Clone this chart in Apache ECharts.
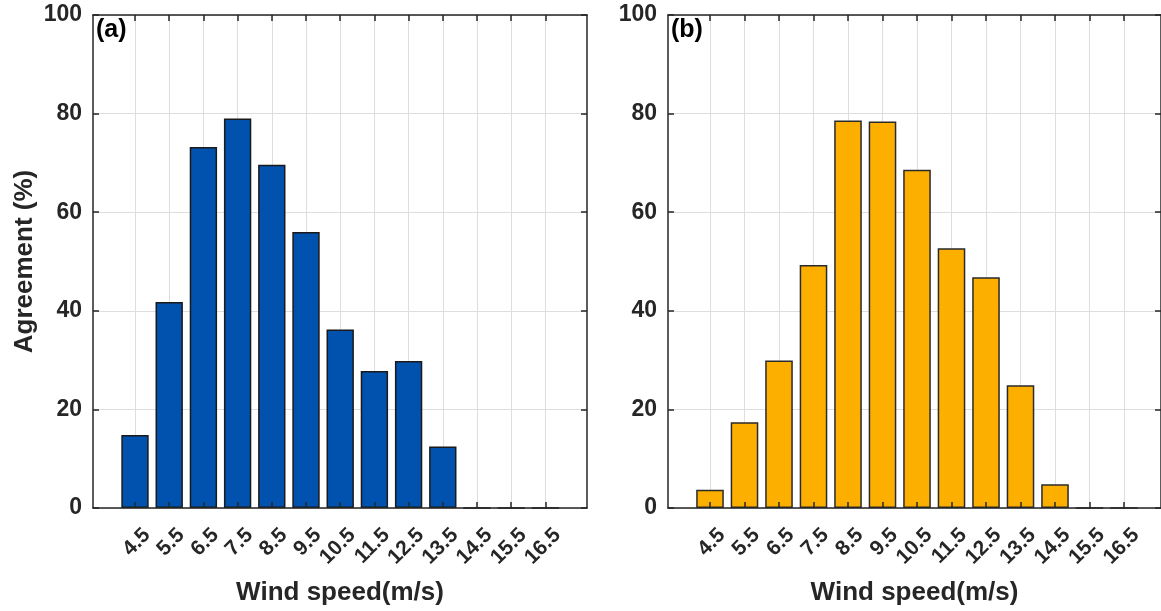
<!DOCTYPE html>
<html>
<head>
<meta charset="utf-8">
<script src="https://cdn.jsdelivr.net/npm/echarts@6/dist/echarts.min.js"></script>
<style>
  html, body { margin: 0; padding: 0; background: #ffffff; }
  #chart { width: 1161px; height: 611px; }
</style>
</head>
<body>
<div id="chart"></div>
<script>
// ---- data ----
const categories = ['4.5', '5.5', '6.5', '7.5', '8.5', '9.5', '10.5', '11.5', '12.5', '13.5', '14.5', '15.5', '16.5'];
const agreementA = [14.8, 41.8, 73.2, 79.0, 69.6, 56.0, 36.2, 27.8, 29.8, 12.5, 0, 0, 0];
const agreementB = [3.7, 17.4, 29.9, 49.3, 78.6, 78.4, 68.6, 52.7, 46.8, 24.9, 4.8, 0, 0];
const yMin = 0, yMax = 100, yStep = 20;
const xTitle = 'Wind speed(m/s)';
const yTitle = 'Agreement (%)';
const panelLabels = ['(a)', '(b)'];

// ---- style / layout ----
const FONT = "'Liberation Sans', Arial, Helvetica, sans-serif";
const TXT = '#262626';
const AX = { color: '#262626', width: 1.5 };
const GRIDC = '#dedede';
const TOP = 15, HEIGHT = 493;
const panels = [
  { frameLeft: 93, frameWidth: 494, dataLeft: 135, dataWidth: 410.4, color: '#0052AE', edge: '#1a1a1a', values: agreementA, label: panelLabels[0], yName: yTitle, labelX: 96 },
  { frameLeft: 668, frameWidth: 496, dataLeft: 710, dataWidth: 414, color: '#FDAF00', edge: '#2a2a2a', values: agreementB, label: panelLabels[1], yName: '', labelX: 671 }
];

const grid = [], xAxis = [], yAxis = [], series = [], graphic = [];

panels.forEach(p => {
  const gF = grid.length;
  grid.push({ left: p.frameLeft, top: TOP, width: p.frameWidth, height: HEIGHT });
  const gD = grid.length;
  grid.push({ left: p.dataLeft, top: TOP, width: p.dataWidth, height: HEIGHT });
  const gL = grid.length;
  grid.push({ left: p.dataLeft + 12, top: TOP, width: p.dataWidth, height: HEIGHT });

  // frame x axes (box lines)
  xAxis.push({
    gridIndex: gF, type: 'value', min: 0, max: 1, position: 'bottom', z: 6,
    axisLine: { show: true, onZero: false, lineStyle: AX },
    axisTick: { show: false }, axisLabel: { show: false }, splitLine: { show: false },
    name: xTitle, nameLocation: 'middle', nameGap: 72,
    nameTextStyle: { fontSize: 26, fontWeight: 'bold', color: TXT, fontFamily: FONT }
  });
  xAxis.push({
    gridIndex: gF, type: 'value', min: 0, max: 1, position: 'top', z: 6,
    axisLine: { show: true, onZero: false, lineStyle: AX },
    axisTick: { show: false }, axisLabel: { show: false }, splitLine: { show: false }
  });
  // data x axis: vertical grid lines
  const xSplitIdx = xAxis.length;
  xAxis.push({
    gridIndex: gD, type: 'category', data: categories, boundaryGap: false, position: 'bottom', z: 0,
    axisLine: { show: false }, axisTick: { show: false }, axisLabel: { show: false },
    splitLine: { show: true, interval: 0, lineStyle: { color: GRIDC, width: 1 } }
  });
  // data x axes: inward ticks bottom & top
  ['bottom', 'top'].forEach(pos => {
    xAxis.push({
      gridIndex: gD, type: 'category', data: categories, boundaryGap: false, position: pos, z: 6,
      axisLine: { show: false },
      axisTick: { show: true, inside: true, length: 6, interval: 0, lineStyle: AX },
      axisLabel: { show: false }, splitLine: { show: false }
    });
  });
  // label axis
  xAxis.push({
    gridIndex: gL, type: 'category', data: categories, boundaryGap: false, position: 'bottom',
    axisLine: { show: false }, axisTick: { show: false }, splitLine: { show: false },
    axisLabel: { show: true, interval: 0, rotate: 45, margin: 24, fontSize: 21, fontWeight: 'bold', color: TXT, fontFamily: FONT }
  });

  // frame y: horizontal grid lines
  yAxis.push({
    gridIndex: gF, type: 'value', min: yMin, max: yMax, interval: yStep, z: 0,
    axisLine: { show: false }, axisTick: { show: false }, axisLabel: { show: false },
    splitLine: { show: true, lineStyle: { color: GRIDC, width: 1 } }
  });
  // frame y left: line, ticks, labels
  yAxis.push({
    gridIndex: gF, type: 'value', min: yMin, max: yMax, interval: yStep, position: 'left', z: 6,
    axisLine: { show: true, onZero: false, lineStyle: AX },
    axisTick: { show: true, inside: true, length: 6, lineStyle: AX },
    axisLabel: { show: true, margin: 11, fontSize: 23, fontWeight: 'bold', color: TXT, fontFamily: FONT },
    splitLine: { show: false },
    name: p.yName, nameLocation: 'middle', nameGap: 55, nameRotate: 90,
    nameTextStyle: { fontSize: 26, fontWeight: 'bold', color: TXT, fontFamily: FONT }
  });
  // frame y right
  yAxis.push({
    gridIndex: gF, type: 'value', min: yMin, max: yMax, interval: yStep, position: 'right', z: 6,
    axisLine: { show: true, onZero: false, lineStyle: AX },
    axisTick: { show: true, inside: true, length: 6, lineStyle: AX },
    axisLabel: { show: false }, splitLine: { show: false }
  });
  // data y (hidden)
  const yDataIdx = yAxis.length;
  yAxis.push({ gridIndex: gD, type: 'value', min: yMin, max: yMax, show: false });
  // label y (hidden)
  yAxis.push({ gridIndex: gL, type: 'value', min: yMin, max: yMax, show: false });

  series.push({
    type: 'bar', xAxisIndex: xSplitIdx, yAxisIndex: yDataIdx,
    data: p.values, barWidth: '80%', clip: false, z: 3,
    itemStyle: { color: p.color, borderColor: p.edge, borderWidth: 1.5 }
  });

  graphic.push({
    type: 'text', left: p.labelX, top: 18, z: 10,
    style: { text: p.label, font: 'bold 25px ' + FONT, fill: '#000000' }
  });
});

const chart = echarts.init(document.getElementById('chart'), null, { renderer: 'canvas' });
chart.setOption({
  animation: false,
  backgroundColor: '#ffffff',
  textStyle: { fontFamily: FONT },
  grid, xAxis, yAxis, series, graphic
});
</script>
</body>
</html>
